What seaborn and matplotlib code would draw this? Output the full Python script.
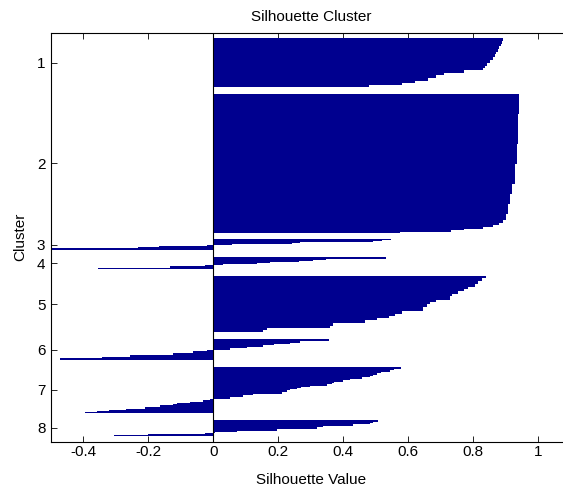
import numpy as np
import pandas as pd
import matplotlib
matplotlib.use("Agg")
import matplotlib.pyplot as plt
import seaborn as sns

cluster_names = ["1", "2", "3", "4", "5", "6", "7", "8"]

s1_values = [0.892, 0.888, 0.884, 0.880, 0.875, 0.870, 0.866, 0.860, 0.852, 0.843,
             0.835, 0.830, 0.770, 0.710, 0.685, 0.660, 0.620, 0.580, 0.480]
s1_rows = [3, 3, 2, 3, 3, 2, 3, 3, 3, 3, 2, 2, 3, 2, 3, 3, 2, 2, 2]

s2_values = [0.942, 0.938, 0.933, 0.928, 0.920, 0.913, 0.908, 0.900, 0.890, 0.880,
             0.860, 0.830, 0.770, 0.730, 0.575]
s2_rows = [20, 30, 20, 20, 10, 10, 10, 6, 3, 2, 2, 2, 1, 2, 1]

s3_values = [0.546, 0.520, 0.490, 0.267, 0.241, 0.057, -0.020, -0.169, -0.231, -0.500]
s3_rows = [1, 1, 1, 1, 1, 1, 1, 1, 1, 2]

s4_values = [0.530, 0.347, 0.308, 0.262, 0.174, 0.133, 0.030, -0.026, -0.133, -0.354]
s4_rows = [2, 1, 1, 1, 1, 1, 1, 1, 2, 1]

s5_values = [0.839, 0.826, 0.815, 0.805, 0.785, 0.770, 0.754, 0.735, 0.728, 0.685,
             0.667, 0.657, 0.645, 0.580, 0.560, 0.540, 0.505, 0.467, 0.369, 0.360,
             0.164, 0.154]
s5_rows = [2, 3, 3, 3, 2, 2, 3, 2, 4, 2, 2, 3, 4, 3, 2, 2, 2, 3, 3, 2, 2, 2]

s6_values = [0.357, 0.267, 0.236, 0.185, 0.154, 0.103, 0.051, -0.020, -0.062, -0.123,
             -0.256, -0.343, -0.472]
s6_rows = [2, 2, 1, 1, 2, 1, 2, 1, 2, 2, 2, 1, 2]

s7_values = [0.577, 0.555, 0.545, 0.515, 0.503, 0.490, 0.482, 0.457, 0.420, 0.400,
             0.372, 0.364, 0.349, 0.297, 0.270, 0.257, 0.236, 0.226, 0.210, 0.123,
             0.092, 0.051, -0.010, -0.031, -0.072, -0.113, -0.123, -0.164, -0.210,
             -0.270, -0.323, -0.359, -0.395]
s7_rows = [2, 1, 2, 1, 2, 1, 1, 2, 1, 2, 1, 1, 2, 1, 1, 1, 1, 2, 2, 1, 2, 2,
           1, 2, 1, 1, 1, 2, 2, 1, 1, 1, 1]

s8_values = [0.508, 0.490, 0.482, 0.431, 0.338, 0.318, 0.195, 0.072, 0.005, -0.026,
             -0.200, -0.305]
s8_rows = [2, 1, 1, 2, 1, 2, 2, 1, 1, 1, 1, 1]

xtick_values = [-0.4, -0.2, 0, 0.2, 0.4, 0.6, 0.8, 1]
xtick_labels = ["-0.4", "-0.2", "0", "0.2", "0.4", "0.6", "0.8", "1"]

# --- build one row per bar, clusters separated by a gap ---
clusters = [(s1_values, s1_rows), (s2_values, s2_rows), (s3_values, s3_rows),
            (s4_values, s4_rows), (s5_values, s5_rows), (s6_values, s6_rows),
            (s7_values, s7_rows), (s8_values, s8_rows)]
gap = 7
frames = []
tick_pos = []
start = 0
for name, (vals, reps) in zip(cluster_names, clusters):
    sil = np.repeat(vals, reps)
    pos = start + np.arange(len(sil)) + 0.5
    frames.append(pd.DataFrame({"silhouette": sil, "row": pos, "cluster": name}))
    tick_pos.append(start + len(sil) / 2)
    start += len(sil) + gap
end = start - gap
df = pd.concat(frames, ignore_index=True)

sns.set_theme(style="white")
plt.rcParams["font.family"] = ["Liberation Sans", "DejaVu Sans"]

fig = plt.figure(figsize=(5.63, 4.87), dpi=100)
ax = fig.add_axes([51 / 563, 45 / 487, 519.8 / 563, 409.5 / 487])

navy = (0, 0, 0.5625)
sns.barplot(data=df, x="silhouette", y="row", orient="h", native_scale=True,
            width=1.0, color=navy, saturation=1, errorbar=None,
            linewidth=0, edgecolor="none", antialiased=False, ax=ax)

ax.axvline(0, color="black", lw=0.8)
ax.set_xlim(-0.5, 1.1)
ax.set_ylim(end + 6.3, -5.8)
ax.set_xticks(xtick_values, xtick_labels)
ax.set_yticks(tick_pos, cluster_names)

ax.tick_params(direction="in", length=4, width=0.6, color="black",
               bottom=True, left=True, top=True, right=True,
               labelsize=11, labelcolor="black")
ax.tick_params(axis="x", pad=2)
ax.tick_params(axis="y", pad=4)
for sp in ax.spines.values():
    sp.set_color("black")
    sp.set_linewidth(0.8)

ax.set_title("Silhouette Cluster", fontsize=11, pad=8, color="black")
ax.set_xlabel("Silhouette Value", fontsize=11, labelpad=10, color="black")
ax.set_ylabel("Cluster", fontsize=11, labelpad=7, color="black")

fig.savefig("out.png", dpi=100)
